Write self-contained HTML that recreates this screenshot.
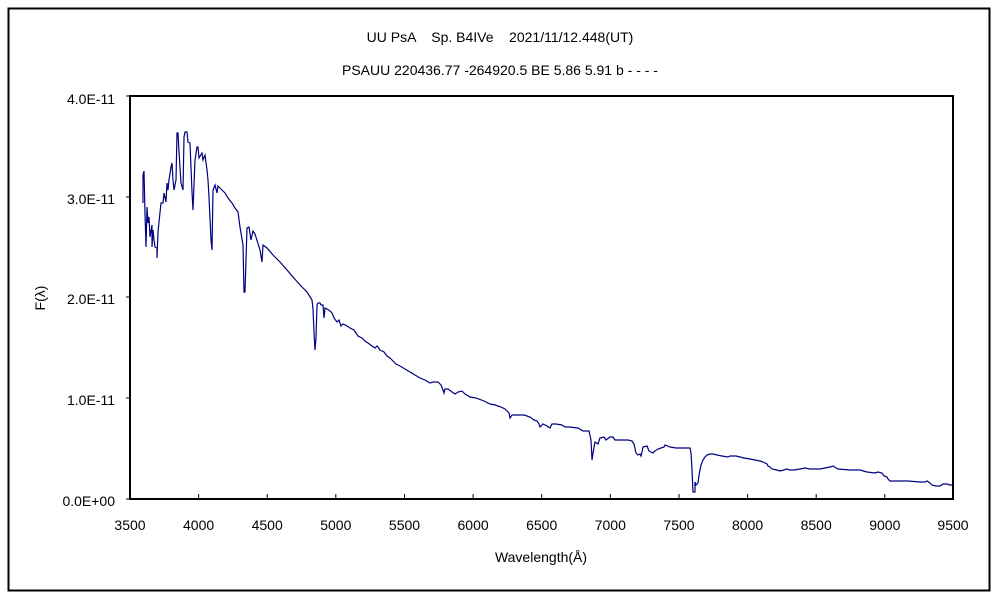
<!DOCTYPE html>
<html><head><meta charset="utf-8"><style>
html,body{margin:0;padding:0;background:#fff;}
svg text{font-family:"Liberation Sans","Noto Sans CJK JP",sans-serif;font-size:14px;fill:#000;}
</style></head><body>
<svg width="1000" height="600" viewBox="0 0 1000 600" xmlns="http://www.w3.org/2000/svg">
<rect x="0" y="0" width="1000" height="600" fill="#fff"/>
<rect x="8.5" y="8.5" width="981" height="582" fill="none" stroke="#000" stroke-width="2"/>
<text x="500" y="42" text-anchor="middle" xml:space="preserve">UU PsA    Sp. B4IVe    2021/11/12.448(UT)</text>
<text x="500" y="75" text-anchor="middle">PSAUU 220436.77 -264920.5 BE 5.86 5.91 b - - - -</text>
<g stroke="#000" stroke-width="1">
<line x1="130" y1="499" x2="126" y2="499"/><line x1="130" y1="398" x2="126" y2="398"/>
<line x1="130" y1="297" x2="126" y2="297"/><line x1="130" y1="197" x2="126" y2="197"/>
<line x1="130" y1="96" x2="126" y2="96"/>
</g>
<g stroke="#000" stroke-width="1">
<line x1="198.6" y1="499" x2="198.6" y2="494"/><line x1="267.2" y1="499" x2="267.2" y2="494"/>
<line x1="335.8" y1="499" x2="335.8" y2="494"/><line x1="404.5" y1="499" x2="404.5" y2="494"/>
<line x1="473.1" y1="499" x2="473.1" y2="494"/><line x1="541.7" y1="499" x2="541.7" y2="494"/>
<line x1="610.3" y1="499" x2="610.3" y2="494"/><line x1="679" y1="499" x2="679" y2="494"/>
<line x1="747.6" y1="499" x2="747.6" y2="494"/><line x1="816.2" y1="499" x2="816.2" y2="494"/>
<line x1="884.8" y1="499" x2="884.8" y2="494"/>
</g>
<polyline fill="none" stroke="#000080" stroke-width="1.2" points="143,203 143,175 144,171 145,214 146,247 147,207 148,223 149,217 150,237 152,225 152,247 153,230 154,240 155,247 157,248 157,258 158,232 159,222 161,203 163,203 164,193 166,202 167,183 168,190 169,180 171,167 172,163 173,180 174,190 176,180 177,133 178,133 179,152 181,183 183,190 184,137 185,132 187,132 188,142 190,143 192,192 193,210 195,160 197,147 198,147 199,158 202,153 203,160 205,155 207,170 208,180 209,197 211,240 212,250 213,190 215,185 217,193 218,186 222,190 225,193 228,198 232,203 235,208 238,212 240,227 243,245 244,292 245,292 247,228 249,227 251,240 253,231 255,234 260,250 262,262 263,245 267,248 273,255 280,262 287,270 293,277 300,285 307,292 312,300 313,309 314,332 315,350 316,338 317,305 318,303 320,303 321,305 323,305 324,318 325,308 327,309 330,311 332,313 334,318 337,322 339,320 341,326 343,324 347,326 350,328 354,330 356,333 358,336 362,338 365,341 368,343 372,346 375,348 377,346 378,347 380,350 384,352 387,356 390,358 393,361 396,364 400,366 405,369 410,372 415,375 420,378 425,380 430,383 433,382 438,382 441,385 443,390 444,393 445,389 448,389 452,392 455,394 458,392 462,391 465,394 470,397 476,398 484,401 490,404 495,405 501,407 505,409 509,413 510,418 512,415 520,415 524,415 527,416 530,417 534,420 537,421 539,424 540,427 543,424 547,426 550,428 552,424 556,424 562,425 565,427 569,427 578,428 583,431 589,431 591,440 592,460 593,453 595,442 598,444 600,438 604,437 606,440 610,437 613,437 615,440 624,440 628,440 632,441 634,444 636,453 638,455 640,454 641,456 642,452 643,447 647,446 649,451 651,452 653,453 655,451 658,449 661,448 664,447 665,445 670,447 676,448 690,448 691,453 692,470 693,492 695,492 695,482 696,485 698,483 699,475 701,465 703,460 705,457 707,455 710,454 713,454 717,455 722,456 728,457 730,456 736,456 740,457 744,458 750,459 755,460 760,461 763,462 765,463 767,464 768,466 770,467 772,469 777,470 780,471 784,470 786,469 790,470 794,470 800,469 805,468 810,469 815,469 820,469 830,467 833,466 838,469 850,470 860,470 867,472 875,473 878,472 882,473 884,476 887,477 888,479 890,481 900,481 908,481 920,482 925,482 927,481 930,483 932,485 936,486 940,486 943,484 947,484 950,485 954,485"/>
<rect x="130" y="96" width="823" height="403" fill="none" stroke="#000" stroke-width="2"/>
<g text-anchor="end">
<text x="115" y="104">4.0E-11</text>
<text x="115" y="204">3.0E-11</text>
<text x="115" y="304">2.0E-11</text>
<text x="115" y="405">1.0E-11</text>
<text x="115" y="506">0.0E+00</text>
</g>
<g text-anchor="middle">
<text x="130" y="530">3500</text><text x="198.6" y="530">4000</text><text x="267.2" y="530">4500</text>
<text x="335.8" y="530">5000</text><text x="404.5" y="530">5500</text><text x="473.1" y="530">6000</text>
<text x="541.7" y="530">6500</text><text x="610.3" y="530">7000</text><text x="679" y="530">7500</text>
<text x="747.6" y="530">8000</text><text x="816.2" y="530">8500</text><text x="884.8" y="530">9000</text>
<text x="953" y="530">9500</text>
<text x="541" y="562">Wavelength(Å)</text>
</g>
<text x="0" y="0" text-anchor="middle" transform="translate(45,298) rotate(-90)">F(λ)</text>
</svg>
</body></html>
